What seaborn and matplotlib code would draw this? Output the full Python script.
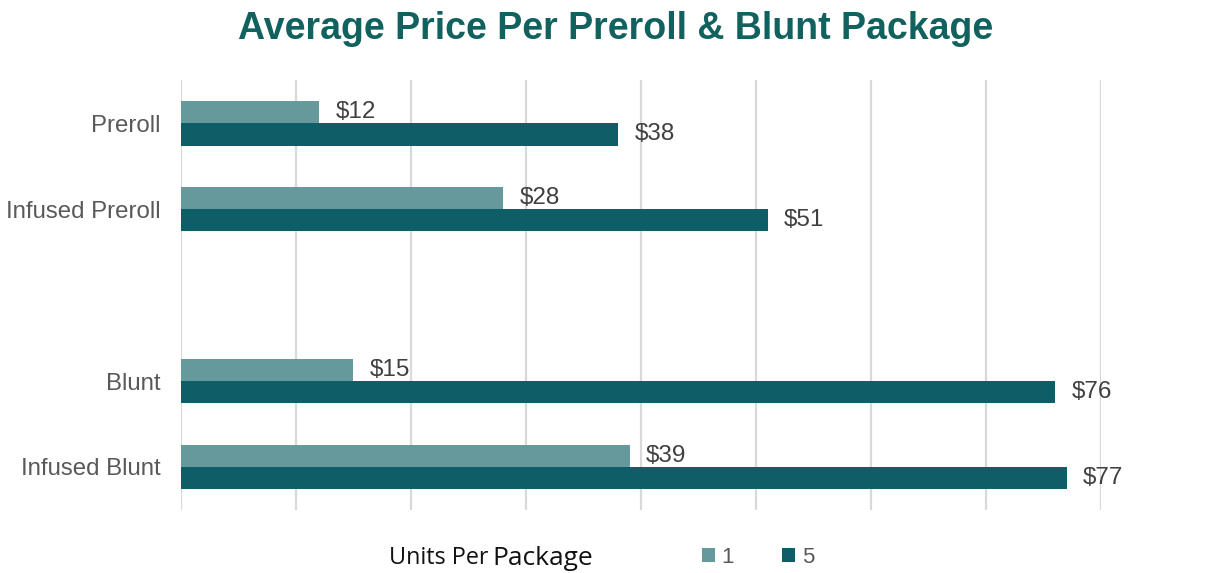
import pandas as pd
import matplotlib.pyplot as plt
import seaborn as sns

# Chart data
products = ["Preroll", "Infused Preroll", "Blunt", "Infused Blunt"]
price_1 = [12, 28, 15, 39]
price_5 = [38, 51, 76, 77]
units = ["1", "5"]

df = pd.DataFrame({
    "product": products * 2,
    "units": [units[0]] * 4 + [units[1]] * 4,
    "price": price_1 + price_5,
})

# empty slot between prerolls and blunts
order = ["Preroll", "Infused Preroll", " ", "Blunt", "Infused Blunt"]

sns.set_style("white")
plt.rcParams["font.family"] = ["Liberation Sans", "DejaVu Sans"]

fig = plt.figure(figsize=(12.09, 5.73), dpi=100)
ax = fig.add_axes([0.1497, 0.110, 0.761, 0.750])

sns.barplot(data=df, y="product", x="price", hue="units",
            order=order, hue_order=units, orient="h",
            palette=["#66999b", "#0d5e66"], width=0.52,
            saturation=1, errorbar=None, linewidth=0, ax=ax)

for c in ax.containers:
    ax.bar_label(c, fmt="${:.0f}", padding=12, fontsize=17.5, color="#404040")

ax.set_xlim(0, 80)
ax.set_ylim(4.5, -0.5)
ax.set_xticks(range(0, 81, 10))
ax.set_xticklabels([])
ax.grid(axis="x", color="#d9d9d9", linewidth=1.6)
ax.set_axisbelow(True)
for s in ax.spines.values():
    s.set_visible(False)
ax.tick_params(axis="both", length=0)
ax.tick_params(axis="y", pad=15, labelsize=17.3, labelcolor="#595959")
ax.set_xlabel("")
ax.set_ylabel("")

fig.suptitle("Average Price Per Preroll & Blunt Package", x=0.509, y=0.98,
             fontsize=27, fontweight="bold", color="#11625f")

sns.move_legend(ax, "center", bbox_to_anchor=(0.627, 0.027),
                bbox_transform=fig.transFigure, ncol=2, title=None,
                frameon=False, fontsize=16, handlelength=0.6,
                handleheight=0.6, handletextpad=0.3, columnspacing=2.15,
                labelcolor="#595959")

fig.text(0.322, 0.026, "Units Per", fontsize=16.8, family="Open Sans",
         va="center", ha="left", color="#111111")
fig.text(0.407, 0.026, "Package", fontsize=19, family="Open Sans",
         va="center", ha="left", color="#111111")

fig.savefig("out.png", dpi=100)
